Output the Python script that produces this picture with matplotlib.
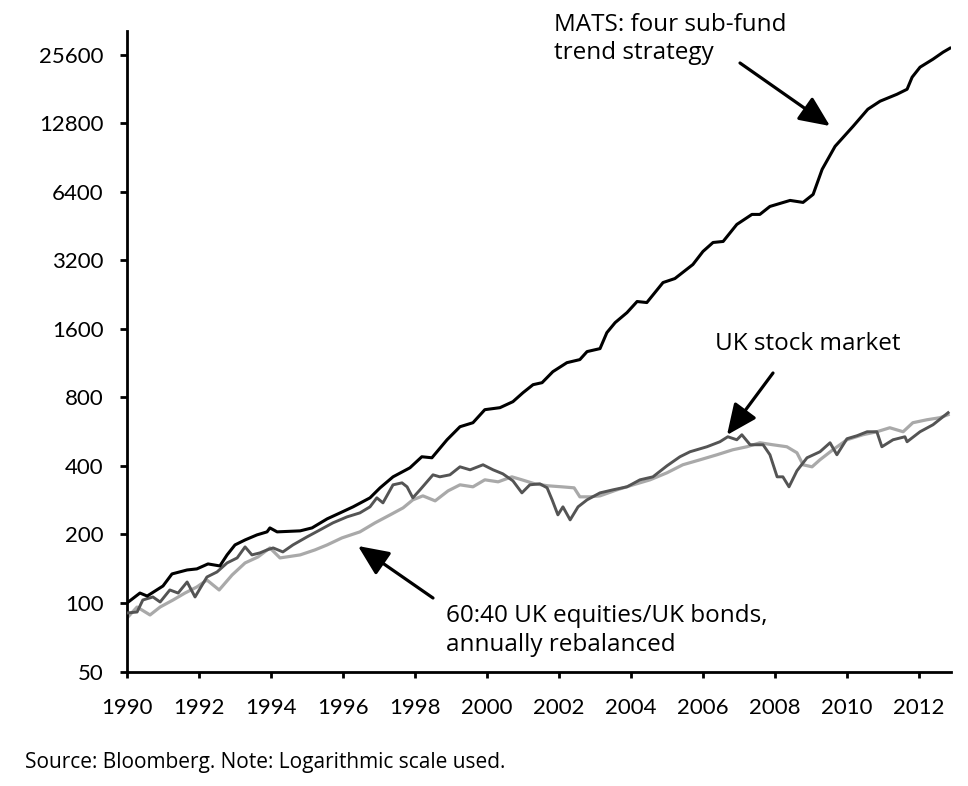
import matplotlib
matplotlib.use('Agg')
import matplotlib.pyplot as plt
from matplotlib.ticker import FixedLocator, NullLocator, FuncFormatter

plt.rcParams['font.family'] = ['Lato', 'DejaVu Sans']

# ---------------- data ----------------
mats_years = [1990.00, 1990.36, 1990.56, 1991.00, 1991.25, 1991.67, 1991.94, 1992.25,
              1992.58, 1992.78, 1993.00, 1993.28, 1993.61, 1993.89, 1993.97, 1994.17,
              1994.81, 1995.14, 1995.56, 1995.92, 1996.28, 1996.75, 1997.03, 1997.39,
              1997.86, 1998.19, 1998.47, 1998.89, 1999.25, 1999.61, 1999.94, 2000.36,
              2000.72, 2001.00, 2001.28, 2001.53, 2001.83, 2002.22, 2002.58, 2002.78,
              2003.14, 2003.33, 2003.56, 2003.89, 2004.17, 2004.44, 2004.89, 2005.22,
              2005.72, 2006.00, 2006.28, 2006.56, 2006.94, 2007.36, 2007.58, 2007.86,
              2008.14, 2008.42, 2008.78, 2009.06, 2009.31, 2009.67, 2010.17, 2010.58,
              2010.92, 2011.39, 2011.67, 2011.81, 2012.03, 2012.39, 2012.67, 2012.86]
mats_values = [100, 110.6, 107.3, 118.8, 134.2, 139.7, 141.2, 148.5,
               145.5, 162.7, 180, 189.3, 199.2, 205.4, 213.8, 205.4,
               207.5, 213.8, 234.3, 248.9, 264.6, 289.8, 320.7, 358.5,
               392.8, 439.2, 434.7, 521.6, 595.2, 619.8, 707.3, 721.7,
               766.9, 839.8, 910.8, 929.4, 1039, 1138, 1174, 1273,
               1312, 1542, 1707, 1889, 2113, 2091, 2560, 2666,
               3073, 3507, 3840, 3880, 4609, 5101, 5101, 5530,
               5701, 5877, 5760, 6246, 8045, 10160, 12440, 14790,
               16040, 17210, 18100, 20450, 22630, 24540, 26340, 27420]

uk_years = [1990.00, 1990.28, 1990.44, 1990.72, 1990.92, 1991.19, 1991.42, 1991.67,
            1991.89, 1992.22, 1992.50, 1992.78, 1993.06, 1993.28, 1993.47, 1993.69,
            1993.89, 1994.06, 1994.33, 1994.61, 1995.00, 1995.36, 1995.72, 1996.11,
            1996.47, 1996.75, 1996.94, 1997.11, 1997.39, 1997.64, 1997.78, 1997.94,
            1998.14, 1998.50, 1998.69, 1998.97, 1999.25, 1999.53, 1999.89, 2000.17,
            2000.44, 2000.72, 2000.97, 2001.19, 2001.47, 2001.67, 2001.81, 2001.97,
            2002.11, 2002.31, 2002.53, 2002.78, 2003.14, 2003.50, 2003.89, 2004.25,
            2004.61, 2005.00, 2005.36, 2005.64, 2006.11, 2006.47, 2006.69, 2006.94,
            2007.08, 2007.31, 2007.67, 2007.86, 2008.06, 2008.22, 2008.39, 2008.61,
            2008.89, 2009.25, 2009.53, 2009.72, 2010.00, 2010.28, 2010.56, 2010.83,
            2010.97, 2011.28, 2011.61, 2011.67, 2012.03, 2012.39, 2012.81]
uk_values = [90.4, 91.3, 103.1, 106.3, 101, 114.1, 110.6, 123.7,
             106.3, 130.1, 136.9, 150, 157.8, 176.4, 162.7, 166,
             171.1, 174.6, 167.7, 180, 195.2, 209.5, 225, 239,
             248.9, 264.6, 289.8, 275.5, 330.6, 337.3, 324, 289.8,
             314.3, 365.8, 358.5, 365.8, 396.7, 384.8, 405, 384.8,
             369.6, 344.3, 304.8, 330.6, 334, 320.7, 284, 244,
             264.6, 231.9, 264.6, 284, 304.8, 314.3, 324, 347.8,
             358.5, 400.8, 439.2, 462, 486, 511.2, 537.7, 521.6,
             548.7, 495.9, 495.9, 448.2, 358.5, 358.5, 324, 381,
             434.7, 462, 506, 448.2, 527.1, 543.4, 565.7, 565.7,
             486, 521.6, 537.7, 511.2, 565.7, 607.2, 685.9]

bal_years = [1990.00, 1990.28, 1990.64, 1990.92, 1991.28, 1991.61, 1991.94, 1992.22,
             1992.56, 1992.92, 1993.28, 1993.64, 1993.97, 1994.25, 1994.81, 1995.22,
             1995.56, 1995.97, 1996.47, 1996.89, 1997.31, 1997.67, 1997.94, 1998.22,
             1998.56, 1998.92, 1999.25, 1999.61, 1999.94, 2000.31, 2000.69, 2000.97,
             2001.33, 2001.69, 2002.08, 2002.42, 2002.58, 2002.86, 2003.14, 2003.61,
             2004.06, 2004.53, 2005.00, 2005.44, 2005.92, 2006.39, 2006.83, 2007.22,
             2007.58, 2007.94, 2008.33, 2008.61, 2008.78, 2009.03, 2009.25, 2009.61,
             2010.00, 2010.44, 2010.83, 2011.19, 2011.56, 2011.83, 2012.22, 2012.58,
             2012.81]
bal_values = [85.9, 96.0, 88.6, 96.0, 103.1, 110.6, 117.6, 126.2,
              114.1, 132.8, 150, 159.4, 174.6, 157.8, 162.7, 171.1,
              180, 193.2, 205.4, 225, 244, 261.9, 284, 295.7,
              281.1, 311.1, 330.6, 324, 347.8, 340.8, 358.5, 347.8,
              334, 327.4, 324, 320.7, 292.8, 292.8, 295.7, 314.3,
              330.6, 347.8, 373.4, 405, 426, 448.2, 471.5, 486,
              506, 495.9, 486, 457.3, 405, 396.7, 426, 471.5,
              521.6, 548.7, 565.7, 589, 565.7, 619.8, 638.6, 652,
              672.3]

y_ticks = [50, 100, 200, 400, 800, 1600, 3200, 6400, 12800, 25600]
x_ticks = [1990, 1992, 1994, 1996, 1998, 2000, 2002, 2004, 2006, 2008, 2010, 2012]

label_mats = ["MATS: four sub-fund", "trend strategy"]
label_uk = "UK stock market"
label_bal = ["60:40 UK equities/UK bonds,", "annually rebalanced"]
source = "Source: Bloomberg. Note: Logarithmic scale used."

# ---------------- figure ----------------
W, H = 968, 786
fig = plt.figure(figsize=(W / 100, H / 100), dpi=100)
fig.patch.set_facecolor('white')
ax = fig.add_axes([127 / W, 1 - 671.5 / H, (951 - 127) / W, (671.5 - 30.6) / H])

ax.plot(bal_years, bal_values, color='#a9a9a9', lw=2.3, solid_joinstyle='round', zorder=2)
ax.plot(uk_years, uk_values, color='#545454', lw=2.1, solid_joinstyle='round', zorder=3)
ax.plot(mats_years, mats_values, color='black', lw=2.2, solid_joinstyle='round', zorder=4)

ax.set_yscale('log', base=2)
ax.set_xlim(1990, 2012.89)
ax.set_ylim(50, 32768)
ax.yaxis.set_major_locator(FixedLocator(y_ticks))
ax.yaxis.set_minor_locator(NullLocator())
ax.yaxis.set_major_formatter(FuncFormatter(lambda v, p: f"{v:.0f}"))
ax.xaxis.set_major_locator(FixedLocator(x_ticks))
ax.xaxis.set_major_formatter(FuncFormatter(lambda v, p: f"{v:.0f}"))

for s in ['top', 'right']:
    ax.spines[s].set_visible(False)
for s in ['left', 'bottom']:
    ax.spines[s].set_linewidth(2.0)
    ax.spines[s].set_color('black')
ax.tick_params(axis='y', direction='out', length=5, width=2, labelsize=16, pad=12, colors='black')
ax.tick_params(axis='x', direction='out', length=4, width=2, labelsize=16, pad=15, colors='black')


def fp(x, y):
    return (x / W, 1 - y / H)


lab_font = ['Open Sans', 'DejaVu Sans']
txt_kw = dict(fontsize=17.5, color='black', va='baseline', family=lab_font)

# MATS label: right end of first line at x=787, second line left-aligned with it
t1 = fig.text(*fp(787, 31), label_mats[0], ha='right', **txt_kw)
fig.canvas.draw()
x_left = t1.get_window_extent().x0
fig.text(x_left / W, 1 - 59 / H, label_mats[1], ha='left', **txt_kw)

fig.text(*fp(715, 350), label_uk, ha='left', **txt_kw)
fig.text(*fp(446, 622), label_bal[0], ha='left', **txt_kw)
fig.text(*fp(446, 651), label_bal[1], ha='left', **txt_kw)
fig.text(*fp(25, 768), source, fontsize=15, color='black', ha='left', va='baseline',
         family=lab_font)

arrow_kw = dict(arrowstyle='-|>,head_length=0.85,head_width=0.38', color='black', lw=2.3,
                mutation_scale=22, shrinkA=0, shrinkB=0)
for tail, tip in [((740, 63), (830, 126)), ((773, 373), (727, 435)), ((433, 598), (358, 546))]:
    ax.annotate('', xy=fp(*tip), xytext=fp(*tail), xycoords='figure fraction',
                textcoords='figure fraction', arrowprops=arrow_kw, zorder=6)

fig.savefig('out.png', dpi=100, facecolor='white')
